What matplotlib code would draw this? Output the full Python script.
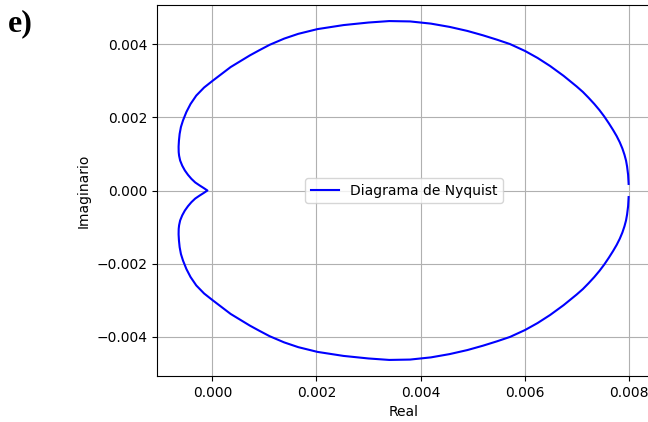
import matplotlib
matplotlib.use('Agg')
import matplotlib.pyplot as plt

# upper branch of the Nyquist curve, from the cusp near the origin out to the DC point
re_upper = [-0.000096, -0.00017, -0.000244, -0.00033, -0.000404, -0.00047, -0.00053,
            -0.00058, -0.00062, -0.00064, -0.000648, -0.00065, -0.000643, -0.00063,
            -0.000605, -0.000565, -0.00050, -0.00042, -0.00031, -0.00016, 0.0,
            0.00035, 0.00072, 0.0009, 0.0011, 0.00138, 0.00165, 0.00202, 0.00252,
            0.00300, 0.00340, 0.00380, 0.00420, 0.00456, 0.00490, 0.00520, 0.00547,
            0.00572, 0.00601, 0.00625, 0.00649, 0.00675, 0.00700, 0.00712, 0.00723,
            0.00734, 0.00744, 0.00753, 0.00762, 0.00770, 0.00777, 0.00783, 0.00788,
            0.00792, 0.00795, 0.00797, 0.00799, 0.00800]
im_upper = [0.0, 0.00007, 0.000137, 0.00022, 0.00032, 0.00043, 0.00055,
            0.00068, 0.00082, 0.00095, 0.00105, 0.00120, 0.00137, 0.00155,
            0.00174, 0.00192, 0.00215, 0.00237, 0.00260, 0.00282, 0.00300,
            0.00338, 0.00370, 0.00384, 0.00399, 0.00416, 0.00429, 0.00442, 0.00453,
            0.00460, 0.00464, 0.00463, 0.00457, 0.00448, 0.00437, 0.00425, 0.00413,
            0.00401, 0.00382, 0.00363, 0.00341, 0.00314, 0.00285, 0.00270, 0.00254,
            0.00237, 0.00220, 0.00203, 0.00184, 0.00166, 0.00149, 0.00132, 0.00115,
            0.00098, 0.00082, 0.00066, 0.00043, 0.00018]

x_ticks = [0.0, 0.002, 0.004, 0.006, 0.008]
y_ticks = [-0.004, -0.002, 0.0, 0.002, 0.004]

# lower branch is the complex conjugate, joined at the cusp
re_full = re_upper[::-1] + re_upper[1:]
im_full = [-v for v in im_upper[::-1]] + im_upper[1:]

fig = plt.figure(figsize=(6.48, 4.22), dpi=100)
ax = fig.add_axes([157 / 648, 46 / 422, 494 / 648, 371 / 422])

ax.plot(re_full, im_full, color='blue', label='Diagrama de Nyquist')
ax.set_xlim(-0.001065, 0.00843)
ax.set_ylim(-0.00508, 0.00508)
ax.set_xticks(x_ticks)
ax.set_yticks(y_ticks)
ax.set_xlabel('Real')
ax.set_ylabel('Imaginario')
ax.grid(True)
ax.legend(loc='center')

fig.text(8 / 648, 1 - 9 / 422, 'e)', fontsize=23, fontweight='bold',
         family='Liberation Serif', va='top', ha='left')

fig.savefig('out.png', dpi=100)
